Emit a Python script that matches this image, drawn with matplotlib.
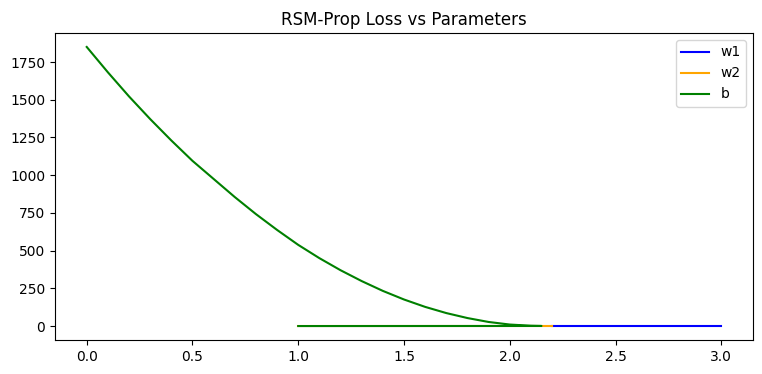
import matplotlib
matplotlib.use("Agg")
import matplotlib.pyplot as plt

# w1 parameter path (loss near zero)
w1_x = [3.0, 2.6, 2.2]
w1_loss = [0.0, 0.0, 0.0]

# w2 parameter path
w2_x = [1.0, 1.6, 2.15, 2.2]
w2_loss = [0.0, 0.0, 0.0, 0.0]

# b parameter path
b_x = [0.0, 0.1, 0.2, 0.3, 0.4, 0.5, 0.6, 0.7, 0.8, 0.9, 1.0, 1.1, 1.2,
       1.3, 1.4, 1.5, 1.6, 1.7, 1.8, 1.9, 2.0, 2.1, 2.15, 1.0]
b_loss = [1850, 1682, 1522, 1372, 1230, 1095, 975, 855, 742, 637, 538, 450,
          370, 298, 233, 176, 127, 86, 53, 27, 10, 2, 0.5, 0]

fig, ax = plt.subplots(figsize=(7.62, 3.74), dpi=100)
fig.subplots_adjust(left=55/762, right=753/762, top=1-33/374, bottom=1-340/374)
ax.plot(w1_x, w1_loss, color="blue", label="w1")
ax.plot(w2_x, w2_loss, color="orange", label="w2")
ax.plot(b_x, b_loss, color="green", label="b")
ax.set_title("RSM-Prop Loss vs Parameters")
ax.legend(loc="upper right")
fig.savefig("out.png", dpi=100)
